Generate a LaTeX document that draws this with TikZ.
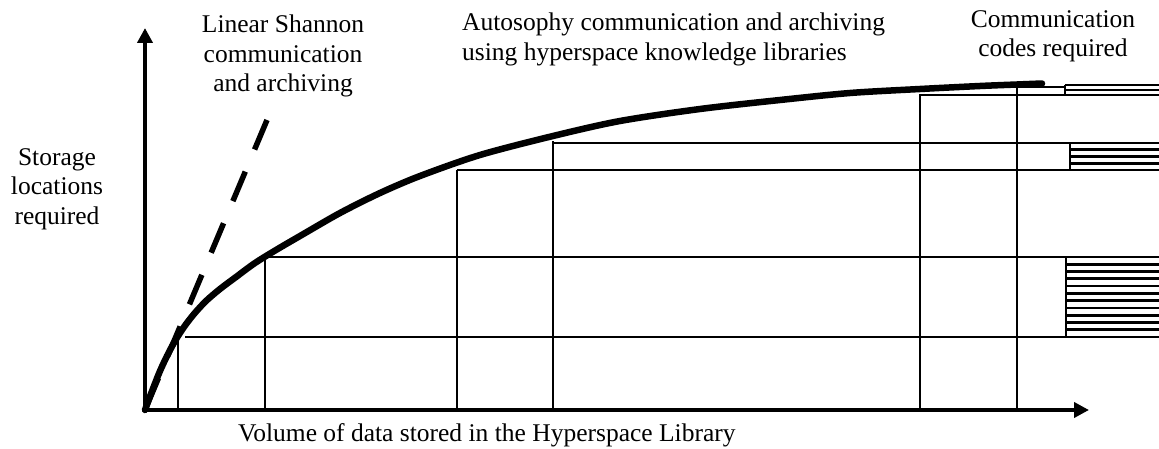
\documentclass[tikz,border=0pt]{standalone}
\usepackage{fontspec}
\setmainfont{Liberation Serif}
\usetikzlibrary{arrows.meta}

\begin{document}
\begin{tikzpicture}[x=1pt, y=-1pt,
	axis/.style={line width=4.5pt, line join=miter,
		{Triangle[length=15pt, width=15pt]}-{Triangle[length=15pt, width=15pt]}},
	growth/.style={line width=6.5pt, line cap=round},
	linear/.style={line width=5.5pt, dash pattern=on 32pt off 24pt},
	guide/.style={line width=2pt},
	stripe/.style={line width=2.8pt},
	label/.style={font=\fontsize{25.5}{29.5}\selectfont, inner sep=0pt, align=center}]

	\useasboundingbox (0,0) rectangle (1159,449);

	\def \rim {1159} % stripes run out to the page edge

	\coordinate (O) at (145,410);
	\coordinate (ytip) at (145,28);
	\coordinate (xtip) at (1089,410);
	\coordinate (dtop) at (267,120);

	% axes
	\draw[axis] (ytip) -- (O) -- (xtip);

	% storage grows linearly ...
	\draw[linear] (dtop) -- (O);
	% ... or flattens out
	\draw[growth] plot[smooth, tension=0.5] coordinates {
		(145,410) (149,399) (154,386) (160,371) (167,356) (175,341)
		(184,327) (194,314) (206,301) (220,289) (236,277) (255,263)
		(276,250) (300,236) (340,213) (380,193) (420,176) (480,155)
		(553,136) (620,121) (700,109) (780,100) (850,93) (920,89)
		(980,86) (1017,84.5) (1042,83.5)};

	% volume marks and their levels
	\foreach \x/\y in {178/340, 265/256, 457/170, 553/141, 920/94, 1017/87}
		\draw[guide] (\x,410) -- (\x,\y);
	\foreach \x/\y/\bx in {185/337/1066, 265/257/1066, 457/170/1070,
			553/143/1070, 920/95/1065, 1017/87/1065}
		\draw[guide] (\x,\y) -- (\bx,\y);

	% code boxes
	\foreach \bx/\ya/\yb/\n in {1065/85/95/2, 1070/143/170/4, 1066/257/337/11} {
		\draw[guide] (\bx,\ya) -- (\bx,\yb);
		\foreach \i in {0,...,\n}
			\draw[stripe] (\bx,{\ya+(\yb-\ya)*\i/\n}) -- (\rim,{\ya+(\yb-\ya)*\i/\n});
	}

	\node[label, anchor=north] (storage) at (57,148) {Storage\\locations\\required};
	\node[label, anchor=north] (shannon) at (283,15) {Linear Shannon\\communication\\and archiving};
	\node[label, anchor=north west, align=left] (autosophy) at (462,13)
		{Autosophy communication and archiving\\using hyperspace knowledge libraries};
	\node[label, anchor=north] (codes) at (1053,10) {Communication\\codes required};
	\node[label, anchor=base west] (volume) at (238,441)
		{Volume of data stored in the Hyperspace Library};

\end{tikzpicture}
\end{document}
